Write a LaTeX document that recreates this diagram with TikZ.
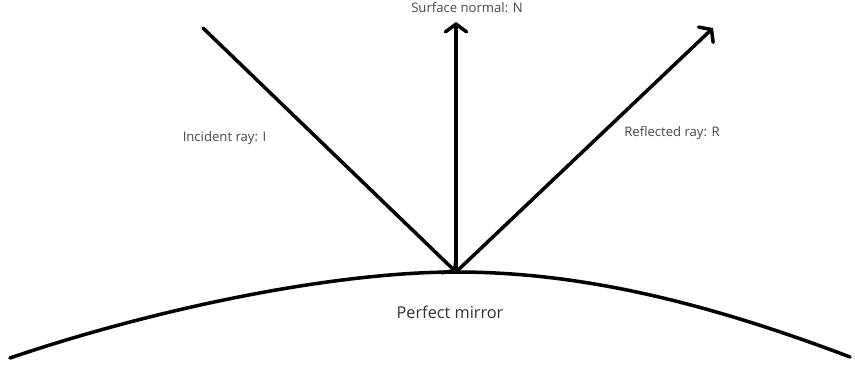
\documentclass[tikz,border=0pt]{standalone}
\usepackage{fontspec}
\setmainfont{Open Sans}
\usetikzlibrary{arrows.meta}
\definecolor{labelgray}{RGB}{70,70,70}
\definecolor{titlegray}{RGB}{50,50,50}
\tikzset{
  ray/.style={line width=3pt, -{Straight Barb[length=6.5pt,width=18pt,line cap=round]}},
  mirror/.style={line width=3pt, line cap=round},
  lbl/.style={text=labelgray, font=\fontsize{11.2}{13}\selectfont, inner sep=0pt},
  bigl/.style={text=titlegray, font=\fontsize{13.9}{16}\selectfont, inner sep=0pt}
}
\begin{document}
\begin{tikzpicture}[x=0.03cm, y=-0.03cm]
\useasboundingbox (0,0) rectangle (855,369);
\coordinate (O) at (456,272);
\coordinate (Istart) at (203,28);
\coordinate (Ntip) at (456,22);
\coordinate (Rtip) at (713,28);
\coordinate (ML) at (10,358);
\coordinate (MR) at (850,357);
\draw[mirror] (ML) .. controls (160,307) and (336,272) .. (O)
  .. controls (576,272) and (700,300) .. (MR);
\draw[ray, line cap=round] (Istart) -- (O);
\draw[ray] (O) -- (Ntip);
\draw[ray] (O) -- (Rtip);
\node[lbl] (nlab) at (467,8) {Surface normal: N};
\node[lbl] (ilab) at (224.5,138) {Incident ray: I};
\node[lbl] (rlab) at (672,133) {Reflected ray: R};
\node[bigl] (mlab) at (450,312) {Perfect mirror};
\end{tikzpicture}
\end{document}
